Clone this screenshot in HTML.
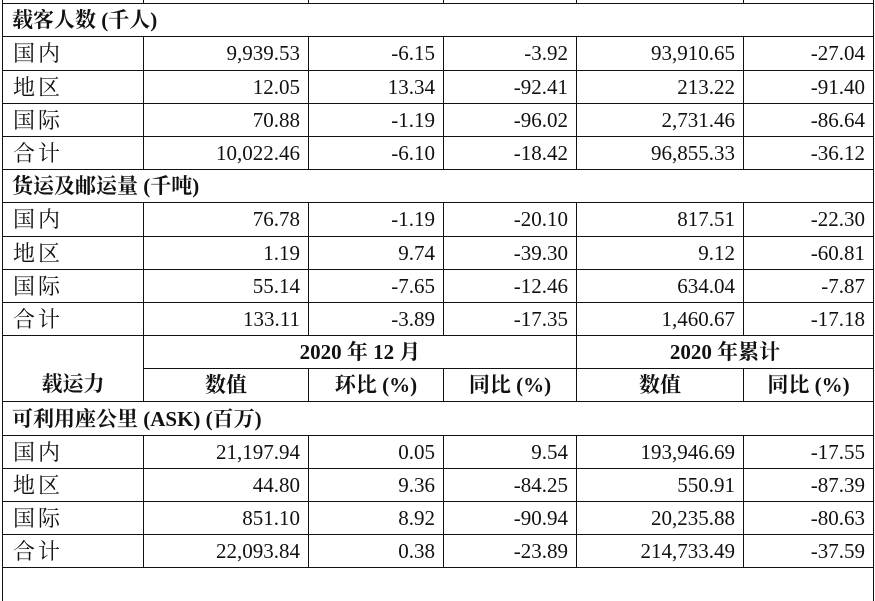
<!DOCTYPE html>
<html><head><meta charset="utf-8"><style>
html,body{margin:0;padding:0;background:#fff;width:875px;height:572px;overflow:hidden;}
table{position:absolute;left:2px;top:-30px;border-collapse:collapse;table-layout:fixed;
font-family:"Liberation Serif","Noto Serif CJK SC",serif;font-size:21px;color:#111;}
td{border:1.5px solid #111;height:32.2px;padding:0 8px 0 8px;text-align:right;white-space:nowrap;overflow:hidden;line-height:22px;vertical-align:middle;}
td.l{text-align:left;padding-left:10px;font-size:22px;font-family:"Noto Serif CJK SC",serif;letter-spacing:3px;}
td.s{text-align:left;padding-left:9px;font-weight:bold;font-size:21px;}
td.h{text-align:center;font-weight:bold;font-size:21px;}
</style></head><body>
<table>
<colgroup><col style="width:141px"><col style="width:165px"><col style="width:135px"><col style="width:133px"><col style="width:167px"><col style="width:130px"></colgroup>
<tr><td></td><td></td><td></td><td></td><td></td><td></td></tr>
<tr><td class="s" colspan="6">载客人数 (千人)</td></tr>
<tr><td class="l">国内</td><td>9,939.53</td><td>-6.15</td><td>-3.92</td><td>93,910.65</td><td>-27.04</td></tr>
<tr><td class="l">地区</td><td>12.05</td><td>13.34</td><td>-92.41</td><td>213.22</td><td>-91.40</td></tr>
<tr><td class="l">国际</td><td>70.88</td><td>-1.19</td><td>-96.02</td><td>2,731.46</td><td>-86.64</td></tr>
<tr><td class="l">合计</td><td>10,022.46</td><td>-6.10</td><td>-18.42</td><td>96,855.33</td><td>-36.12</td></tr>
<tr><td class="s" colspan="6">货运及邮运量 (千吨)</td></tr>
<tr><td class="l">国内</td><td>76.78</td><td>-1.19</td><td>-20.10</td><td>817.51</td><td>-22.30</td></tr>
<tr><td class="l">地区</td><td>1.19</td><td>9.74</td><td>-39.30</td><td>9.12</td><td>-60.81</td></tr>
<tr><td class="l">国际</td><td>55.14</td><td>-7.65</td><td>-12.46</td><td>634.04</td><td>-7.87</td></tr>
<tr><td class="l">合计</td><td>133.11</td><td>-3.89</td><td>-17.35</td><td>1,460.67</td><td>-17.18</td></tr>
<tr><td class="h" rowspan="2" style="vertical-align:bottom;padding-bottom:6px">载运力</td><td class="h" colspan="3">2020 年 12 月</td><td class="h" colspan="2">2020 年累计</td></tr>
<tr><td class="h">数值</td><td class="h">环比 (%)</td><td class="h">同比 (%)</td><td class="h">数值</td><td class="h">同比 (%)</td></tr>
<tr><td class="s" colspan="6">可利用座公里 (ASK) (百万)</td></tr>
<tr><td class="l">国内</td><td>21,197.94</td><td>0.05</td><td>9.54</td><td>193,946.69</td><td>-17.55</td></tr>
<tr><td class="l">地区</td><td>44.80</td><td>9.36</td><td>-84.25</td><td>550.91</td><td>-87.39</td></tr>
<tr><td class="l">国际</td><td>851.10</td><td>8.92</td><td>-90.94</td><td>20,235.88</td><td>-80.63</td></tr>
<tr><td class="l">合计</td><td>22,093.84</td><td>0.38</td><td>-23.89</td><td>214,733.49</td><td>-37.59</td></tr>
<tr><td colspan="6" style="border-bottom:none"></td></tr>
</table>
</body></html>
